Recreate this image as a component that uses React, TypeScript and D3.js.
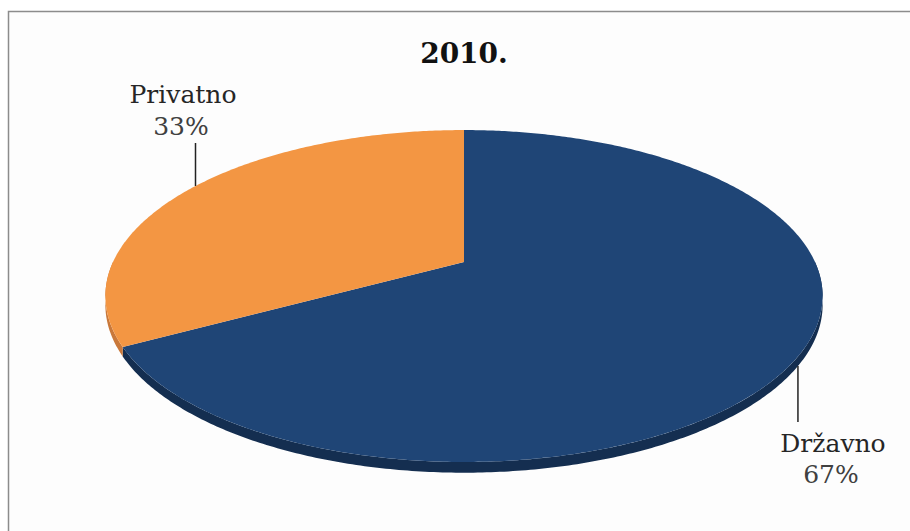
import React from "react";
import * as d3 from "d3";

const title = "2010.";
const categories = ["Državno", "Privatno"];
const values = [67, 33];
const percentLabels = ["67%", "33%"];

const W = 910;
const H = 531;

// perspective ellipse parameters
const CX = 464;
const CY = 262;
const RX = 351;
const RY = 159;
const PERSP = 0.205;
const DEPTH = 8.5;

const topColors = ["#1F4576", "#F39643"];
const sideColors = ["#142E50", "#C9783A"];

function proj(phi: number, r = 1, dz = 0): [number, number] {
  const s = Math.sin(phi);
  const c = -Math.cos(phi);
  const k = 1 / (1 - PERSP * r * c);
  return [CX + RX * r * s * k, CY + RY * r * c * k + dz * k];
}

function arcPoints(a0: number, a1: number, dz = 0): [number, number][] {
  const n = Math.max(2, Math.ceil(Math.abs(a1 - a0) / 0.01));
  return d3.range(n + 1).map((i) => proj(a0 + ((a1 - a0) * i) / n, 1, dz));
}

export default function App() {
  const pie = d3
    .pie<number>()
    .sort(null)
    .value((d) => d)
    .startAngle(0)
    .endAngle(2 * Math.PI);
  const arcs = pie(values);
  const line = d3.line();

  const sides: JSX.Element[] = [];
  const tops: JSX.Element[] = [];
  arcs.forEach((a, i) => {
    // front visible part: phi in [pi/2, 3pi/2]
    const f0 = Math.max(a.startAngle, Math.PI / 2);
    const f1 = Math.min(a.endAngle, (3 * Math.PI) / 2);
    if (f1 > f0) {
      const topPts = arcPoints(f0, f1, 0);
      const botPts = arcPoints(f0, f1, DEPTH).reverse();
      sides.push(
        <path
          key={"s" + i}
          d={line([...topPts, ...botPts])! + "Z"}
          fill={sideColors[i]}
        />
      );
    }
    const pts = [proj(0, 0), ...arcPoints(a.startAngle, a.endAngle, 0)];
    tops.push(
      <path key={"t" + i} d={line(pts)! + "Z"} fill={topColors[i]} />
    );
  });

  // label leader anchors (angle on the rim) and label placement
  const anchorAngles = [(122 * Math.PI) / 180, (302 * Math.PI) / 180];
  const labelPos = [
    { x: 833, y1: 452, y2: 483, lineEnd: 422, dz: DEPTH },
    { x: 183, y1: 103, y2: 135, lineEnd: 143, dz: 0 },
  ];

  return (
    <svg
      width={W}
      height={H}
      style={{ position: "absolute", left: 0, top: 0, background: "#fff" }}
    >
      <rect
        x={8.5}
        y={11.5}
        width={920}
        height={540}
        fill="#FDFDFD"
        stroke="#8C8C8C"
        strokeWidth={1.5}
      />
      <text
        x={464}
        y={63}
        textAnchor="middle"
        fontFamily="DejaVu Serif"
        fontWeight="bold"
        fontSize={28}
        fill="#111"
      >
        {title}
      </text>
      {sides}
      {tops}
      {arcs.map((a, i) => {
        const [ax, ay] = proj(anchorAngles[i], 1, labelPos[i].dz);
        const lp = labelPos[i];
        return (
          <g key={"l" + i}>
            <line
              x1={ax}
              x2={ax}
              y1={ay}
              y2={lp.lineEnd}
              stroke="#222"
              strokeWidth={1.5}
            />
            <text
              x={lp.x}
              y={lp.y1}
              textAnchor="middle"
              fontFamily="DejaVu Serif"
              fontSize={25}
              fill="#262626"
            >
              {categories[i]}
            </text>
            <text
              x={lp.x - 2}
              y={lp.y2}
              textAnchor="middle"
              fontFamily="DejaVu Serif"
              fontSize={25}
              fill="#404040"
            >
              {percentLabels[i]}
            </text>
          </g>
        );
      })}
    </svg>
  );
}
